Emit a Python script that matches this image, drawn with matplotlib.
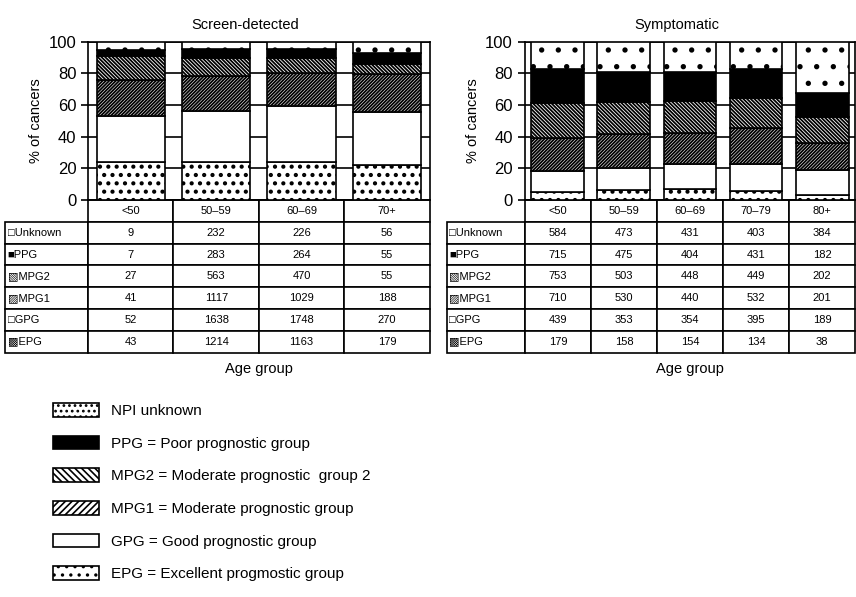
import numpy as np
import matplotlib.pyplot as plt
from matplotlib.patches import Patch
from matplotlib.table import Table

plt.rcParams['font.family'] = ['Liberation Sans', 'DejaVu Sans']

# table rows, top to bottom
groups = ['Unknown', 'PPG', 'MPG2', 'MPG1', 'GPG', 'EPG']
row_labels = ['□Unknown', '■PPG', '▧MPG2', '▨MPG1', '□GPG', '▩EPG']

# screen-detected cancers (counts)
screen_ages = ['<50', '50–59', '60–69', '70+']
screen_unknown = [9, 232, 226, 56]
screen_ppg = [7, 283, 264, 55]
screen_mpg2 = [27, 563, 470, 55]
screen_mpg1 = [41, 1117, 1029, 188]
screen_gpg = [52, 1638, 1748, 270]
screen_epg = [43, 1214, 1163, 179]

# symptomatic cancers (counts)
symp_ages = ['<50', '50–59', '60–69', '70–79', '80+']
symp_unknown = [584, 473, 431, 403, 384]
symp_ppg = [715, 475, 404, 431, 182]
symp_mpg2 = [753, 503, 448, 449, 202]
symp_mpg1 = [710, 530, 440, 532, 201]
symp_gpg = [439, 353, 354, 395, 189]
symp_epg = [179, 158, 154, 134, 38]

legend_labels = ['NPI unknown',
                 'PPG = Poor prognostic group',
                 'MPG2 = Moderate prognostic  group 2',
                 'MPG1 = Moderate prognostic group',
                 'GPG = Good prognostic group',
                 'EPG = Excellent progmostic group']

# fill style for each group: face, hatch, hatch line width
styles = {'Unknown': ('white', '.', 1.4),
          'PPG': ('black', '', 1.0),
          'MPG2': ('white', '\\' * 9, 1.3),
          'MPG1': ('white', '/' * 10, 1.3),
          'GPG': ('white', '', 1.0),
          'EPG': ('white', '..', 1.8)}
# lighter versions for the small legend keys
legend_styles = {'Unknown': ('white', '...', 1.0),
                 'PPG': ('black', '', 1.0),
                 'MPG2': ('white', '\\' * 5, 0.8),
                 'MPG1': ('white', '/' * 5, 0.8),
                 'GPG': ('white', '', 1.0),
                 'EPG': ('white', '..', 1.2)}


def hatched(fc, h, hlw, **kw):
    plt.rcParams['hatch.linewidth'] = hlw
    return dict(facecolor=fc, hatch=h, edgecolor='black', linewidth=1.2, **kw)


def draw_panel(ax, ages, rows, title, tab_x0, label_w, col_w):
    counts = np.array(rows, dtype=float)          # rows in table order
    pct = counts / counts.sum(axis=0) * 100
    x = np.arange(len(ages)) + 0.5
    bottom = np.zeros(len(ages))
    # stack from EPG (bottom) up to Unknown (top)
    for i in range(len(groups) - 1, -1, -1):
        fc, h, hlw = styles[groups[i]]
        bars = ax.bar(x, pct[i], width=0.8, bottom=bottom,
                      **hatched(fc, h, hlw, zorder=3))
        for b in bars:
            if hasattr(b, 'set_hatch_linewidth'):
                b.set_hatch_linewidth(hlw)
        bottom += pct[i]
    ax.set_xlim(0, len(ages))
    ax.set_ylim(0, 100)
    ax.set_yticks([0, 20, 40, 60, 80, 100])
    ax.set_xticks([])
    ax.tick_params(axis='y', labelsize=12, length=5, width=1.2)
    ax.yaxis.grid(True, color='black', lw=1.2)
    ax.set_axisbelow(True)
    for s in ax.spines.values():
        s.set_linewidth(1.2)
    ax.set_ylabel('% of cancers', fontsize=10.5, labelpad=4)
    ax.set_title(title, fontsize=10.5, x=0.46, pad=9)

    # data table below the bars
    tb = Table(ax, bbox=[tab_x0, -0.965, 1 - tab_x0, 0.965])
    ncol = len(ages)
    nrow = len(groups) + 1
    rh = 1.0 / nrow
    hdr = tb.add_cell(0, 0, width=label_w, height=rh, text='')
    hdr.visible_edges = ''
    for j, a in enumerate(ages):
        tb.add_cell(0, j + 1, width=col_w, height=rh, text=a, loc='center')
    for i, lab in enumerate(row_labels):
        tb.add_cell(i + 1, 0, width=label_w, height=rh, text=lab, loc='left')
        for j in range(ncol):
            tb.add_cell(i + 1, j + 1, width=col_w, height=rh,
                        text=str(rows[i][j]), loc='center')
    tb.auto_set_font_size(False)
    tb.set_fontsize(8)
    for c in tb.get_celld().values():
        c.set_linewidth(1.2)
        c.PAD = 0.03
    ax.add_table(tb)
    ax.text(0.5, -1.07, 'Age group', transform=ax.transAxes,
            ha='center', va='center', fontsize=10.5)


fig = plt.figure(figsize=(8.56, 5.97), dpi=100)
ax1 = fig.add_axes([0.103, 0.665, 0.399, 0.265])
ax2 = fig.add_axes([0.613, 0.665, 0.386, 0.265])

draw_panel(ax1, screen_ages,
           [screen_unknown, screen_ppg, screen_mpg2, screen_mpg1, screen_gpg, screen_epg],
           'Screen-detected', -0.243, 83, 85.5)
draw_panel(ax2, symp_ages,
           [symp_unknown, symp_ppg, symp_mpg2, symp_mpg1, symp_gpg, symp_epg],
           'Symptomatic', -0.236, 78, 66)

handles = []
for g in groups:
    fc, h, hlw = legend_styles[g]
    p = Patch(**hatched(fc, h, hlw))
    if hasattr(p, 'set_hatch_linewidth'):
        p.set_hatch_linewidth(hlw)
    handles.append(p)
fig.legend(handles, legend_labels, loc='upper left', bbox_to_anchor=(0.062, 0.325),
           frameon=False, fontsize=11, handlelength=3.0, handleheight=1.0,
           labelspacing=1.15, handletextpad=0.8, borderpad=0, borderaxespad=0)

fig.savefig('out.png', dpi=100)
